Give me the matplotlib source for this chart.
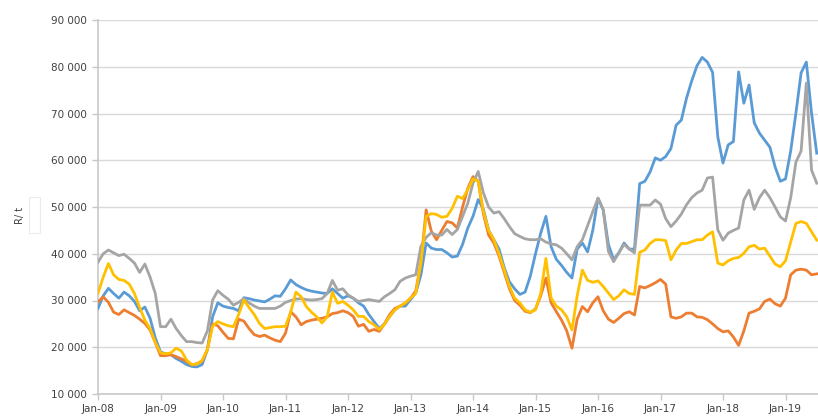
import matplotlib
matplotlib.use("Agg")
import matplotlib.pyplot as plt
from matplotlib.patches import Rectangle
import numpy as np

tick_labels = ["Jan-08", "Jan-09", "Jan-10", "Jan-11", "Jan-12", "Jan-13",
               "Jan-14", "Jan-15", "Jan-16", "Jan-17", "Jan-18", "Jan-19"]

blue = [28300, 31000, 32600, 31500, 30500, 31800, 31000, 29800, 27800, 28600,
        26200, 22000, 19000, 18600, 18400, 17600, 17000, 16300, 15900, 15800,
        16300, 19500, 26500, 29500, 28800, 28500, 28300, 27800, 30600, 30400,
        30100, 29900, 29700, 30300, 31000, 30900, 32500, 34400, 33400, 32800,
        32300, 32000, 31800, 31600, 31500, 32500, 31500, 30500, 31000, 30500,
        29500, 28800, 27000, 25500, 24000, 25000, 26600, 28000, 28800, 28800,
        30200, 31600, 35500, 42300, 41200, 40900, 40900, 40200, 39300, 39500,
        42000, 45500, 48000, 51600, 49500, 45000, 43000, 41000, 37000, 34000,
        32500, 31300, 31800, 35200, 40000, 44400, 48000, 41500, 38800, 37500,
        36000, 34800, 41000, 42300, 40400, 45000, 51900, 49400, 42000, 38700,
        40200, 42300, 41000, 41000, 55000, 55500, 57500, 60500, 60000, 60800,
        62500, 67500, 68600, 73300, 77000, 80200, 82000, 81000, 78800, 65000,
        59400, 63300, 64000, 78900, 72200, 76100, 68000, 65800, 64300, 62800,
        58600, 55500, 56000, 62000, 70100, 78700, 81000, 70100, 61500]

orange = [29700, 30800, 29600, 27500, 27000, 28000, 27400, 26800, 26000, 25100,
          23700, 21000, 18200, 18200, 18400, 18000, 17500, 17000, 16200, 16500,
          17000, 19500, 25000, 24600, 23200, 21900, 21800, 26000, 25600, 24000,
          22700, 22300, 22600, 22000, 21500, 21200, 23000, 27600, 26500, 24800,
          25500, 25800, 26000, 26200, 26500, 27200, 27400, 27800, 27400, 26600,
          24500, 24900, 23400, 23800, 23400, 25000, 27000, 28300, 28800, 29400,
          30500, 32000, 38000, 49400, 44800, 43000, 45000, 46900, 46600, 45500,
          50000, 54000, 56500, 55500, 48500, 44000, 42300, 39500, 36000, 32500,
          30000, 29000, 27700, 27400, 28200, 31000, 34800, 29500, 27600, 25800,
          23500, 19800, 26000, 28700, 27600, 29500, 30800, 27800, 26000, 25300,
          26200, 27200, 27600, 26900, 33000, 32700, 33200, 33800, 34500, 33500,
          26500, 26200, 26500, 27300, 27300, 26500, 26400, 25900, 25000, 24000,
          23300, 23500, 22200, 20400, 23500, 27300, 27700, 28200, 29800, 30300,
          29300, 28800, 30500, 35500, 36500, 36700, 36500, 35500, 35700]

gray = [38200, 40000, 40800, 40200, 39600, 39900, 39000, 38000, 36000, 37800,
        35000, 31500, 24400, 24400, 26000, 24000, 22500, 21200, 21200, 21000,
        20900, 23500, 30100, 32100, 31100, 30300, 29000, 29600, 30400, 29500,
        28800, 28300, 28300, 28300, 28300, 28800, 29600, 30000, 30300, 30400,
        30200, 30100, 30200, 30400, 31500, 34300, 32200, 32500, 31200, 30500,
        29800, 30000, 30200, 30000, 29800, 30800, 31500, 32300, 34100, 34800,
        35200, 35500, 41600, 43500, 44500, 44000, 44000, 45200, 44100, 45200,
        48000, 50800, 55100, 57600, 53000, 50000, 48700, 49000, 47500, 45800,
        44300, 43700, 43200, 43000, 43000, 43200, 42500, 42100, 41900, 41200,
        40000, 38700, 41500, 43000, 46000, 49000, 51900, 49400, 40500, 38300,
        40200, 42000, 41000, 40200, 50400, 50400, 50400, 51500, 50600, 47500,
        45800, 47000, 48500, 50500, 52000, 53000, 53600, 56200, 56400, 45100,
        42900, 44400, 45000, 45500, 51500, 53600, 49500, 52000, 53600, 52000,
        50000, 47900, 47000, 52000, 59600, 62000, 76500, 57900, 55100]

yellow = [31500, 35000, 37900, 35500, 34500, 34300, 33500, 31500, 28500, 25800,
          24000, 21000, 18800, 18600, 18800, 19800, 19200, 17300, 16300, 16400,
          17200, 19500, 24500, 25500, 25000, 24600, 24400, 27000, 30100, 28500,
          27000, 25100, 24000, 24200, 24400, 24400, 24500, 27500, 31800, 30800,
          28700, 27500, 26500, 25200, 26500, 31800, 29400, 29800, 29000, 28000,
          26600, 26600, 25500, 24800, 23800, 24900, 26600, 28000, 28800, 29500,
          30500, 31500, 38000, 48000, 48600, 48400, 47800, 48000, 49700, 52300,
          51800, 53700, 56000, 55500, 49000, 45000, 43000, 40000, 36500, 33000,
          30500, 29500, 28000, 27500, 28000, 31500, 39000, 30500, 28800, 28000,
          26500, 23700, 31000, 36500, 34300, 33900, 34200, 33000, 31600, 30200,
          31000, 32300, 31500, 31300, 40300, 40800, 42200, 43000, 43000, 42800,
          38700, 40800, 42200, 42200, 42600, 43000, 43000, 44000, 44700, 38000,
          37600, 38500, 39000, 39200, 40100, 41500, 41800, 41000, 41200, 39500,
          37800, 37200, 38500, 42500, 46500, 46900, 46500, 44700, 42900]

W, H = 818, 420
fig = plt.figure(figsize=(W / 100, H / 100), dpi=100)
ax = fig.add_axes([98 / W, 1 - 394 / H, 1 - 98 / W, (394 - 20) / H])

months = np.arange(len(blue))
series = [(blue, "#5B9BD5"), (orange, "#ED7D31"), (gray, "#A5A5A5"), (yellow, "#FFC000")]
for vals, col in series:
    ax.plot(months, vals, color=col, lw=2.0, solid_joinstyle="round", zorder=3)

ax.set_xlim(0, (818 - 98) / (62.5 / 12))
ax.set_ylim(10000, 90000)
ax.set_yticks(np.arange(10000, 90001, 10000))
ax.set_yticklabels([f"{v // 1000} 000" for v in range(10000, 90001, 10000)])
ax.set_xticks(np.arange(0, 12 * len(tick_labels), 12))
ax.set_xticklabels(tick_labels)

ax.grid(axis="y", color="#D9D9D9", lw=1.0, zorder=0)
for s in ["top", "right"]:
    ax.spines[s].set_visible(False)
for s in ["left", "bottom"]:
    ax.spines[s].set_color("#C8C8C8")
    ax.spines[s].set_linewidth(1.2)
ax.tick_params(axis="both", colors="#C8C8C8", labelcolor="#404040",
               labelsize=7.5, length=4, width=1)
ax.tick_params(axis="x", pad=3)
ax.tick_params(axis="y", pad=4)

fig.text(20 / W, 1 - 215 / H, "R/ t", rotation=90, fontsize=7,
         color="#404040", ha="center", va="center")
fig.patches.append(Rectangle((29 / W, 1 - 233 / H), 11 / W, 36 / H,
                             transform=fig.transFigure, facecolor="white",
                             edgecolor="#EBEBEB", lw=0.8))

fig.savefig("out.png", dpi=100)
